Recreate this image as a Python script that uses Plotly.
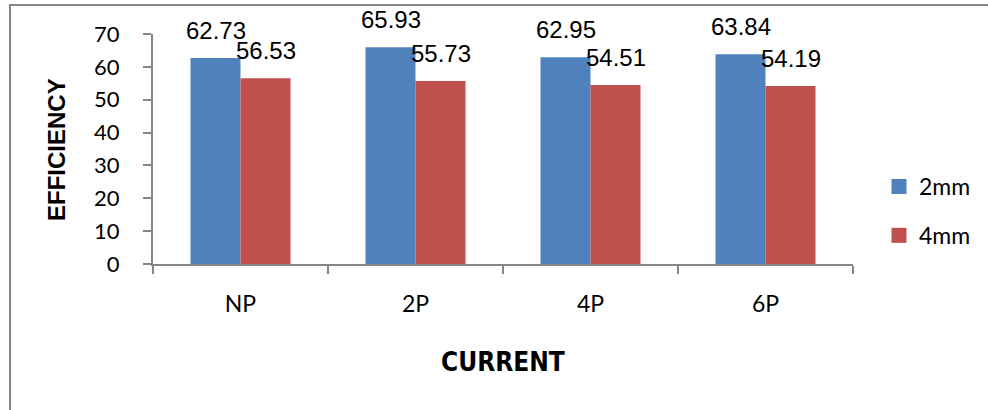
import plotly.graph_objects as go

# Efficiency per current setting for the two electrode gaps
categories = ["NP", "2P", "4P", "6P"]
series_names = ["2mm", "4mm"]
eff_2mm = [62.73, 65.93, 62.95, 63.84]
eff_4mm = [56.53, 55.73, 54.51, 54.19]
y_ticks = [0, 10, 20, 30, 40, 50, 60, 70]

BLUE = "#4F81BD"
RED = "#C0504D"
AXIS_GREY = "#868686"

W, H = 988, 410
L, R, T, B = 153, 135, 34, 146
PW, PH = W - L - R, H - T - B


def px_x(px):
    return (px - L) / PW


def px_y(py):
    return (H - B - py) / PH


fig = go.Figure()

series = [(series_names[0], eff_2mm, BLUE), (series_names[1], eff_4mm, RED)]
for name, vals, col in series:
    fig.add_trace(go.Bar(
        x=categories, y=vals, name=name, marker=dict(color=col, line=dict(width=0)),
        showlegend=False, hoverinfo="x+y",
    ))

# legend entries with larger square swatches
for i, (name, vals, col) in enumerate(series):
    fig.add_trace(go.Scatter(
        x=[None], y=[None], mode="markers", name=name,
        marker=dict(symbol="square", size=15, color=col),
        legendgroup=f"g{i}", showlegend=True,
    ))

# value labels above each bar
label_font = dict(family="Liberation Sans, Arial, sans-serif", size=24, color="#000000")
for k, (name, vals, col) in enumerate(series):
    shift = -25 if k == 0 else 25
    for cat, v in zip(categories, vals):
        fig.add_annotation(
            x=cat, y=v, xref="x", yref="y", text=f"{v:.2f}", showarrow=False,
            xanchor="center", yanchor="bottom", xshift=shift, yshift=12,
            font=label_font,
        )

# axis titles
fig.add_annotation(
    x=px_x(503), y=px_y(362), xref="paper", yref="paper", text="<b>CURRENT</b>",
    showarrow=False, xanchor="center", yanchor="middle",
    font=dict(family="DejaVu Sans Condensed, Liberation Sans, sans-serif",
              size=26, color="#000000"),
)
fig.add_annotation(
    x=px_x(56), y=px_y(150), xref="paper", yref="paper", text="<b>EFFICIENCY</b>",
    showarrow=False, textangle=-90, xanchor="center", yanchor="middle",
    font=dict(family="Liberation Sans, Arial, sans-serif", size=24, color="#000000"),
)

# outer chart frame
fig.add_shape(
    type="rect", xref="paper", yref="paper",
    x0=px_x(10), x1=px_x(1100), y0=px_y(5), y1=px_y(500),
    line=dict(color=AXIS_GREY, width=2), fillcolor="rgba(0,0,0,0)", layer="below",
)

tick_font = dict(family="Lato, sans-serif", size=22, color="#000000")

fig.update_layout(
    width=W, height=H, autosize=False,
    margin=dict(l=L, r=R, t=T, b=B, pad=0),
    paper_bgcolor="#FFFFFF", plot_bgcolor="#FFFFFF",
    barmode="group", bargap=0.4286, bargroupgap=0,
    showlegend=True,
    legend=dict(
        x=px_x(879), y=px_y(165), xanchor="left", yanchor="top",
        font=dict(family="Lato, sans-serif", size=23, color="#000000"),
        bgcolor="rgba(0,0,0,0)", borderwidth=0, tracegroupgap=16,
        traceorder="grouped",
    ),
    xaxis=dict(
        type="category", categoryorder="array", categoryarray=categories,
        tickson="boundaries", ticks="outside", ticklen=8, tickwidth=2,
        tickcolor=AXIS_GREY, showline=True, linecolor=AXIS_GREY, linewidth=2,
        showgrid=False, zeroline=False,
        tickfont=dict(family="Lato, sans-serif", size=23, color="#000000"),
        ticklabelstandoff=18, fixedrange=True,
    ),
    yaxis=dict(
        range=[0, 70], tickmode="array", tickvals=y_ticks, ticktext=[str(t) for t in y_ticks],
        ticks="outside", ticklen=8, tickwidth=2, tickcolor=AXIS_GREY,
        showline=True, linecolor=AXIS_GREY, linewidth=2, showgrid=False, zeroline=False,
        tickfont=tick_font, ticklabelstandoff=19, fixedrange=True,
    ),
)

fig.write_html("out.html")
